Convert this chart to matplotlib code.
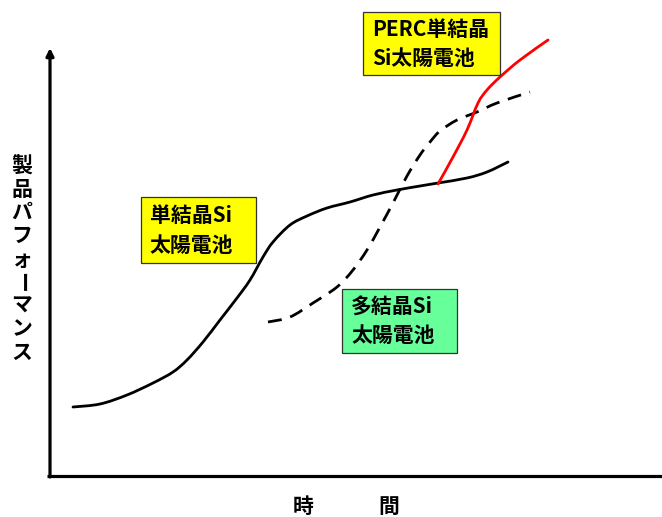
import matplotlib.pyplot as plt
from matplotlib.patches import Rectangle, PathPatch
from matplotlib.path import Path

plt.rcParams['font.family'] = ['Noto Sans CJK JP', 'DejaVu Sans']

# curves (time, performance) in arbitrary units, origin at the axes corner
mono_t = [23, 50, 77, 103, 123, 137, 153, 170, 187, 200, 213, 223, 240,
          257, 277, 300, 323, 347, 370, 388, 417, 437, 458]
mono_p = [69, 72, 81, 93, 104, 116, 134, 156, 178, 196, 219, 234, 251,
          260, 268, 274, 281, 286, 290, 293, 298, 304, 314]

poly_t = [218, 240, 263, 287, 303, 317, 330, 343, 357, 370, 380, 390,
          407, 427, 447, 480]
poly_p = [154, 159, 173, 189, 206, 226, 249, 273, 300, 321, 334, 345,
          356, 364, 373, 384]

perc_t = [388, 403, 417, 428, 437, 450, 470, 498]
perc_p = [292, 319, 346, 373, 386, 399, 416, 436]

# label boxes: (left, bottom, width, height), lines, colour
boxes = [
    ((313, 401, 137, 63), ['PERC単結晶', 'Si太陽電池'], '#ffff00'),
    ((91, 213, 115, 66), ['単結晶Si', '太陽電池'], '#ffff00'),
    ((292, 123, 115, 64), ['多結晶Si', '太陽電池'], '#66ff99'),
]

ylabel = '製品パフォーマンス'


def smooth_path(xs, ys):
    # catmull-rom through the points, as cubic bezier segments
    pts = list(zip(xs, ys))
    verts = [pts[0]]
    codes = [Path.MOVETO]
    for i in range(len(pts) - 1):
        p0 = pts[i - 1] if i > 0 else pts[i]
        p1, p2 = pts[i], pts[i + 1]
        p3 = pts[i + 2] if i + 2 < len(pts) else pts[i + 1]
        c1 = (p1[0] + (p2[0] - p0[0]) / 6, p1[1] + (p2[1] - p0[1]) / 6)
        c2 = (p2[0] - (p3[0] - p1[0]) / 6, p2[1] - (p3[1] - p1[1]) / 6)
        verts += [c1, c2, p2]
        codes += [Path.CURVE4] * 3
    return Path(verts, codes)


W, H = 662, 517
fig = plt.figure(figsize=(W / 100, H / 100), dpi=100)
x0, y0 = 50, 476
ax = fig.add_axes([x0 / W, (H - y0) / H, (W - x0) / W, y0 / H])
ax.set_xlim(0, W - x0)
ax.set_ylim(0, y0)
ax.axis('off')

# axes
ax.plot([-3, W - x0], [0, 0], color='black', lw=2.3, clip_on=False,
        solid_capstyle='butt')
ax.annotate('', xy=(0, 428), xytext=(0, -1),
            arrowprops=dict(arrowstyle='-|>', lw=2.3, color='black',
                            mutation_scale=11, shrinkA=0, shrinkB=0))

ax.add_patch(PathPatch(smooth_path(mono_t, mono_p), fill=False,
                       edgecolor='black', lw=2, capstyle='round'))
ax.add_patch(PathPatch(smooth_path(poly_t, poly_p), fill=False,
                       edgecolor='black', lw=2, linestyle=(0, (5, 3.2))))
ax.add_patch(PathPatch(smooth_path(perc_t, perc_p), fill=False,
                       edgecolor='red', lw=2, capstyle='round'))

for (l, b, w, h), lines, col in boxes:
    ax.add_patch(Rectangle((l, b), w, h, facecolor=col, edgecolor='#333333',
                           lw=0.9, zorder=3))
    ax.text(l + 9, b + h * 0.72, lines[0], fontsize=15, fontweight='bold',
            va='center', ha='left', zorder=4)
    ax.text(l + 9, b + h * 0.27, lines[1], fontsize=15, fontweight='bold',
            va='center', ha='left', zorder=4)

# vertical y label
for i, ch in enumerate(ylabel):
    y = 166 + i * 23.25
    fig.text(22 / W, 1 - y / H, ch, fontsize=15, fontweight='bold',
             ha='center', va='center', rotation=-90 if ch == 'ー' else 0)

fig.text(303 / W, 1 - 506 / H, '時', fontsize=15, fontweight='bold',
         ha='center', va='center')
fig.text(389 / W, 1 - 506 / H, '間', fontsize=15, fontweight='bold',
         ha='center', va='center')

fig.savefig('out.png', dpi=100)
